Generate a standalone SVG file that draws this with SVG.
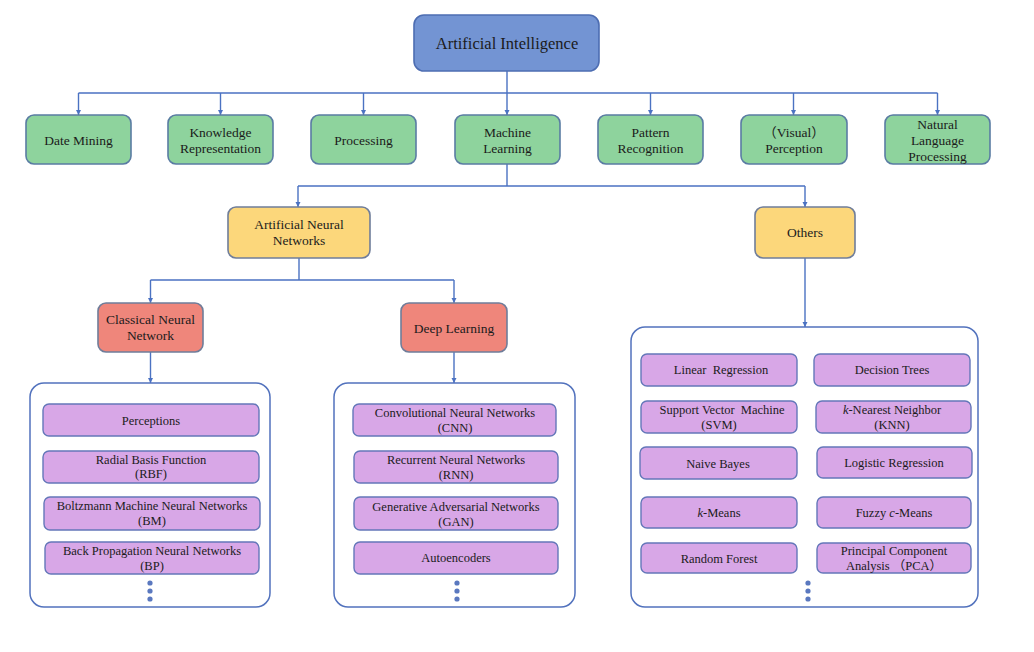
<svg xmlns="http://www.w3.org/2000/svg" width="1034" height="652" viewBox="0 0 1034 652">
<style>
text{font-family:"Liberation Serif","Times New Roman","Noto Sans CJK SC",serif;fill:#1b1b1b;text-anchor:middle}
.t{font-size:16.5px}
.g{font-size:13.5px}
.i{font-size:12.5px}
.top{fill:#7394d3;stroke:#4d6db2;stroke-width:1.6}
.green{fill:#8ed39d;stroke:#5a7ca3;stroke-width:1.6}
.yel{fill:#fcd77b;stroke:#6f7d9a;stroke-width:1.6}
.red{fill:#ef867b;stroke:#6f7d9a;stroke-width:1.6}
.pur{fill:#d8a7e7;stroke:#6477b9;stroke-width:1.4}
.box{fill:#ffffff;stroke:#5272bd;stroke-width:1.5}
.c{fill:none;stroke:#4b72c2;stroke-width:1.4}
.a{marker-end:url(#arr)}
.dot{fill:#5a78bf}
</style>
<defs>
<marker id="arr" markerUnits="userSpaceOnUse" markerWidth="6" markerHeight="6" refX="5" refY="3" orient="auto">
<path d="M0,0.5 L5,3 L0,5.5 z" fill="#4b72c2"/>
</marker>
</defs>
<rect width="1034" height="652" fill="#ffffff"/>
<g id="connectors">
<path class="c" d="M507,71 V93 M78.5,93 H937.5"/>
<path class="c a" d="M78.5,93 V115"/>
<path class="c a" d="M220.5,93 V115"/>
<path class="c a" d="M363.5,93 V115"/>
<path class="c a" d="M507,93 V115"/>
<path class="c a" d="M650.5,93 V115"/>
<path class="c a" d="M793.5,93 V115"/>
<path class="c a" d="M937.5,93 V115"/>
<path class="c" d="M507,164 V186 M298,186 H805"/>
<path class="c a" d="M298,186 V207"/>
<path class="c a" d="M805,186 V207"/>
<path class="c" d="M299,258 V280 M150.5,280 H454"/>
<path class="c a" d="M150.5,280 V303"/>
<path class="c a" d="M454,280 V303"/>
<path class="c a" d="M150.5,352 V383"/>
<path class="c a" d="M454,352 V383"/>
<path class="c a" d="M805,258 V327"/>
</g>
<g id="ai"><rect class="top" x="414" y="15" width="185" height="56" rx="10"/><text class="t" x="507" y="49">Artificial Intelligence</text></g>
<g id="date-mining"><rect class="green" x="26" y="115" width="105" height="49" rx="8"/><text class="g" x="78.5" y="145">Date Mining</text></g>
<g id="knowledge"><rect class="green" x="168" y="115" width="105" height="49" rx="8"/><text class="g" x="220.5" y="137">Knowledge</text><text class="g" x="220.5" y="153">Representation</text></g>
<g id="processing"><rect class="green" x="311" y="115" width="105" height="49" rx="8"/><text class="g" x="363.5" y="145">Processing</text></g>
<g id="ml"><rect class="green" x="455" y="115" width="105" height="49" rx="8"/><text class="g" x="507.5" y="137">Machine</text><text class="g" x="507.5" y="153">Learning</text></g>
<g id="pattern"><rect class="green" x="598" y="115" width="105" height="49" rx="8"/><text class="g" x="650.5" y="137">Pattern</text><text class="g" x="650.5" y="153">Recognition</text></g>
<g id="visual"><rect class="green" x="741" y="115" width="106" height="49" rx="8"/><text class="g" x="794" y="137">（Visual）</text><text class="g" x="794" y="153">Perception</text></g>
<g id="nlp"><rect class="green" x="885" y="115" width="105" height="49" rx="8"/><text class="g" x="937.5" y="129">Natural</text><text class="g" x="937.5" y="145">Language</text><text class="g" x="937.5" y="161">Processing</text></g>
<g id="ann"><rect class="yel" x="228" y="207" width="142" height="51" rx="8"/><text class="g" x="299" y="229">Artificial Neural</text><text class="g" x="299" y="245">Networks</text></g>
<g id="others"><rect class="yel" x="755" y="207" width="100" height="51" rx="8"/><text class="g" x="805" y="237">Others</text></g>
<g id="classical"><rect class="red" x="98" y="303" width="105" height="49" rx="8"/><text class="g" x="150.5" y="324">Classical Neural</text><text class="g" x="150.5" y="340">Network</text></g>
<g id="deep"><rect class="red" x="401" y="303" width="106" height="49" rx="8"/><text class="g" x="454" y="333">Deep Learning</text></g>
<g id="classical-list">
<rect class="box" x="30" y="383" width="240" height="224" rx="14"/>
<rect class="pur" x="43" y="404" width="216" height="32" rx="6"/><text class="i" x="151" y="425">Perceptions</text>
<rect class="pur" x="43" y="451" width="216" height="32" rx="6"/><text class="i" x="151" y="464">Radial Basis Function</text><text class="i" x="151" y="478">(RBF)</text>
<rect class="pur" x="44" y="497" width="216" height="33" rx="6"/><text class="i" x="152" y="510">Boltzmann Machine Neural Networks</text><text class="i" x="152" y="525">(BM)</text>
<rect class="pur" x="45" y="542" width="214" height="32" rx="6"/><text class="i" x="152" y="555">Back Propagation Neural Networks</text><text class="i" x="152" y="570">(BP)</text>
<circle class="dot" cx="150" cy="583" r="2.6"/><circle class="dot" cx="150" cy="591" r="2.6"/><circle class="dot" cx="150" cy="599" r="2.6"/>
</g>
<g id="deep-list">
<rect class="box" x="334" y="383" width="241" height="224" rx="14"/>
<rect class="pur" x="353" y="404" width="203" height="32" rx="6"/><text class="i" x="455" y="417">Convolutional Neural Networks</text><text class="i" x="455" y="432">(CNN)</text>
<rect class="pur" x="354" y="451" width="204" height="32" rx="6"/><text class="i" x="456" y="464">Recurrent Neural Networks</text><text class="i" x="456" y="479">(RNN)</text>
<rect class="pur" x="354" y="497" width="204" height="33" rx="6"/><text class="i" x="456" y="511">Generative Adversarial Networks</text><text class="i" x="456" y="526">(GAN)</text>
<rect class="pur" x="354" y="542" width="204" height="32" rx="6"/><text class="i" x="456" y="562">Autoencoders</text>
<circle class="dot" cx="457" cy="583" r="2.6"/><circle class="dot" cx="457" cy="591" r="2.6"/><circle class="dot" cx="457" cy="599" r="2.6"/>
</g>
<g id="others-list">
<rect class="box" x="631" y="327" width="347" height="280" rx="14"/>
<rect class="pur" x="641" y="354" width="156" height="32" rx="6"/><text class="i" x="721" y="374">Linear&#160; Regression</text>
<rect class="pur" x="814" y="354" width="156" height="32" rx="6"/><text class="i" x="892" y="374">Decision Trees</text>
<rect class="pur" x="641" y="401" width="156" height="32" rx="6"/><text class="i" x="722" y="414">Support Vector&#160; Machine</text><text class="i" x="719" y="429">(SVM)</text>
<rect class="pur" x="816" y="401" width="155" height="32" rx="6"/><text class="i" x="892" y="414"><tspan font-style="italic">k</tspan>-Nearest Neighbor</text><text class="i" x="892" y="429">(KNN)</text>
<rect class="pur" x="640" y="447" width="157" height="32" rx="6"/><text class="i" x="718" y="468">Naive Bayes</text>
<rect class="pur" x="817" y="447" width="155" height="31" rx="6"/><text class="i" x="894" y="467">Logistic Regression</text>
<rect class="pur" x="641" y="497" width="156" height="31" rx="6"/><text class="i" x="719" y="517"><tspan font-style="italic">k</tspan>-Means</text>
<rect class="pur" x="817" y="497" width="154" height="31" rx="6"/><text class="i" x="894" y="517">Fuzzy <tspan font-style="italic">c</tspan>-Means</text>
<rect class="pur" x="641" y="543" width="156" height="30" rx="6"/><text class="i" x="719" y="563">Random Forest</text>
<rect class="pur" x="817" y="543" width="154" height="30" rx="6"/><text class="i" x="894" y="555">Principal Component</text><text class="i" x="894" y="570">Analysis （PCA）</text>
<circle class="dot" cx="808" cy="583" r="2.6"/><circle class="dot" cx="808" cy="591" r="2.6"/><circle class="dot" cx="808" cy="599" r="2.6"/>
</g>
</svg>
